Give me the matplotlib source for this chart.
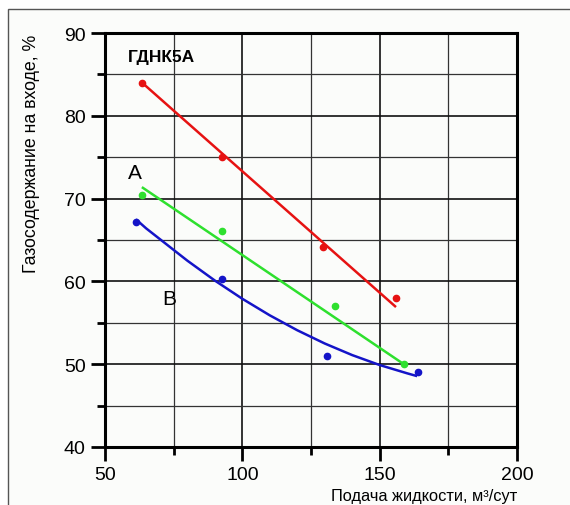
#Description
"""
Gas content at pump inlet vs. liquid rate for the ГДНК5А pump.
Saves the chart as out.png.
"""

#Libraries
import matplotlib
matplotlib.use('Agg')
import matplotlib.pyplot as plt
from matplotlib.patches import Rectangle
from matplotlib.ticker import MultipleLocator

#Data
##Red series (measured points and trend line ends)
red_x = [63.5, 92.6, 129.4, 155.9]
red_y = [84.0, 75.0, 64.2, 58.0]
red_line_x = [63.5, 155.6]
red_line_y = [84.0, 57.0]

##Green series (curve A)
green_x = [63.5, 92.6, 133.7, 158.8]
green_y = [70.4, 66.1, 57.0, 50.0]
green_line_x = [63.8, 158.8]
green_line_y = [71.3, 50.0]

##Blue series (curve B), trend curve read every 5 units
blue_x = [61.3, 92.6, 130.8, 164.0]
blue_y = [67.2, 60.3, 51.0, 49.1]
blue_curve_x = [61.6, 65, 70, 75, 80, 85, 90, 95, 100, 105, 110,
                115, 120, 125, 130, 135, 140, 145, 150, 155, 160, 163.2]
blue_curve_y = [67.4, 66.4, 65.1, 63.8, 62.5, 61.3, 60.1, 59.0, 57.9, 56.9, 55.9,
                55.0, 54.1, 53.3, 52.5, 51.8, 51.1, 50.5, 49.9, 49.4, 48.9, 48.6]

##Texts
x_ticks = [50, 100, 150, 200]
y_ticks = [40, 50, 60, 70, 80, 90]
pump_name = 'ГДНК5А'
x_label = 'Подача жидкости, м³/сут'
y_label = 'Газосодержание на входе, %'

#Constants
RED = '#e61212'
GREEN = '#2ee02e'
BLUE = '#1414c8'
W, H = 570, 506


def main():
    plt.rcParams['font.family'] = ['Liberation Sans', 'DejaVu Sans']
    fig = plt.figure(figsize=(W / 100, H / 100), dpi=100)

    ##Outer frame
    frame = Rectangle((8 / W, -0.1), 1.2, 1.1 - 10 / H,
                      transform=fig.transFigure, facecolor='#fbfcfa',
                      edgecolor='#555555', linewidth=1.0, zorder=-5)
    fig.add_artist(frame)

    ax = fig.add_axes([105 / W, 1 - 448 / H, 412 / W, 414 / H])
    ax.set_zorder(1)
    ax.set_facecolor('#fbfcfa')
    ax.set_xlim(50, 200)
    ax.set_ylim(40, 90)

    ##Ticks and grid
    ax.set_xticks(x_ticks)
    ax.set_yticks(y_ticks)
    ax.xaxis.set_minor_locator(MultipleLocator(25))
    ax.yaxis.set_minor_locator(MultipleLocator(5))
    ax.tick_params(which='major', direction='out', length=10, width=2,
                   labelsize=14, pad=4)
    ax.tick_params(which='minor', direction='out', length=6, width=2)
    ax.grid(which='major', color='#111111', linewidth=1.2)
    ax.grid(which='minor', color='#333333', linewidth=0.9)
    ax.set_axisbelow(True)
    for s in ax.spines.values():
        s.set_linewidth(2.2)

    ##Series
    ax.plot(red_line_x, red_line_y, color=RED, lw=1.8)
    ax.plot(red_x, red_y, 'o', color=RED, ms=4.5)
    ax.plot(green_line_x, green_line_y, color=GREEN, lw=1.8)
    ax.plot(green_x, green_y, 'o', color=GREEN, ms=4.5)
    ax.plot(blue_curve_x, blue_curve_y, color=BLUE, lw=1.8)
    ax.plot(blue_x, blue_y, 'o', color=BLUE, ms=4.5)

    ##Annotations
    ax.text(0.056, 0.943, pump_name, transform=ax.transAxes, fontsize=12.5,
            fontweight='bold', va='center', ha='left')
    ax.text(60.9, 73.1, 'A', fontsize=15, ha='center', va='center')
    ax.text(73.3, 57.9, 'B', fontsize=15, ha='center', va='center')

    ##Axis labels
    fig.text(32 / W, 1 - 35 / H, y_label, rotation=90, fontsize=12.8,
             ha='center', va='top')
    fig.text(517 / W, 5 / H, x_label, fontsize=11.8, ha='right', va='baseline')

    fig.savefig('out.png', dpi=100)
    plt.close(fig)


#Execution
if __name__ == '__main__':
    main()
